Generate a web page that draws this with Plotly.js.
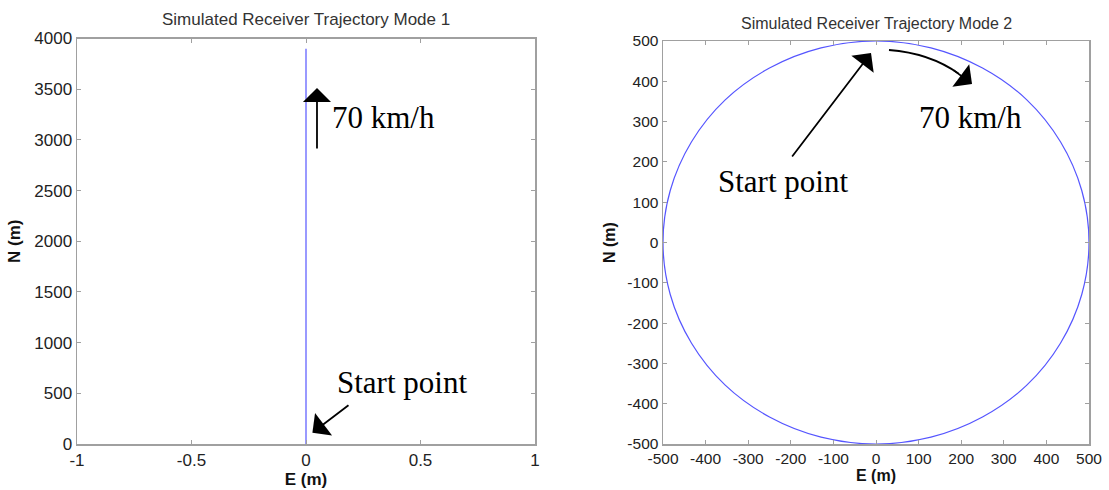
<!DOCTYPE html>
<html>
<head>
<meta charset="utf-8">
<script src="https://cdn.plot.ly/plotly-3.0.1.min.js"></script>
<style>html,body{margin:0;padding:0;background:#fff;}#chart{width:1109px;height:490px;}</style>
</head>
<body>
<div id="chart"></div>
<script>
// ---- Data: Mode 1 (straight north trajectory) ----
var mode1E = [0, 0];
var mode1N = [0, 3900];

// ---- Data: Mode 2 (circular trajectory, clockwise from start) ----
var mode2E = [0, 129, 250, 354, 433, 483, 500, 483, 433, 354, 250, 129, 0,
              -129, -250, -354, -433, -483, -500, -483, -433, -354, -250, -129, 0];
var mode2N = [500, 483, 433, 354, 250, 129, 0, -129, -250, -354, -433, -483, -500,
              -483, -433, -354, -250, -129, 0, 129, 250, 354, 433, 483, 500];

// ---- Tick labels ----
var mode1XTicks = [-1, -0.5, 0, 0.5, 1];
var mode1XTickText = ['-1', '-0.5', '0', '0.5', '1'];
var mode1YTicks = [0, 500, 1000, 1500, 2000, 2500, 3000, 3500, 4000];
var mode1YTickText = ['0', '500', '1000', '1500', '2000', '2500', '3000', '3500', '4000'];
var mode2Ticks = [-500, -400, -300, -200, -100, 0, 100, 200, 300, 400, 500];
var mode2TickText = ['-500', '-400', '-300', '-200', '-100', '0', '100', '200', '300', '400', '500'];

var titles = ['Simulated Receiver Trajectory Mode 1', 'Simulated Receiver Trajectory Mode 2'];
var speedLabel = '70 km/h';
var startLabel = 'Start point';

var sans = 'Liberation Sans, Arial, sans-serif';
var serif = 'Liberation Serif, Times New Roman, serif';
var frame = '#a0a0a0';
var lineBlue = 'rgb(85,85,255)';

var traces = [
  {x: mode1E, y: mode1N, type: 'scatter', mode: 'lines', xaxis: 'x', yaxis: 'y',
   line: {color: lineBlue, width: 1.2}, hoverinfo: 'skip', showlegend: false},
  {x: mode2E, y: mode2N, type: 'scatter', mode: 'lines', xaxis: 'x2', yaxis: 'y2',
   line: {color: lineBlue, width: 1.2, shape: 'spline', smoothing: 1}, hoverinfo: 'skip', showlegend: false}
];

function axisBase(fs) {
  return {
    ticks: 'inside', ticklen: 4, tickwidth: 1, tickcolor: frame,
    showline: true, linecolor: frame, linewidth: 1.5, mirror: 'ticks',
    showgrid: false, zeroline: false, fixedrange: true,
    tickfont: {family: sans, size: fs, color: '#222'},
    tickmode: 'array'
  };
}

var xa1 = Object.assign(axisBase(17), {
  domain: [77/1109, 535/1109], range: [-1, 1], anchor: 'y',
  tickvals: mode1XTicks, ticktext: mode1XTickText,
  title: {text: '<b>E (m)</b>', font: {family: sans, size: 17, color: '#111'}, standoff: 3}
});
var ya1 = Object.assign(axisBase(17), {
  domain: [46/490, 451.5/490], range: [0, 4000], anchor: 'x',
  tickvals: mode1YTicks, ticktext: mode1YTickText,
  title: {text: '<b>N (m)</b>', font: {family: sans, size: 17, color: '#111'}, standoff: 9}
});
var xa2 = Object.assign(axisBase(15.5), {
  domain: [663/1109, 1089/1109], range: [-500, 500], anchor: 'y2',
  tickvals: mode2Ticks, ticktext: mode2TickText,
  title: {text: '<b>E (m)</b>', font: {family: sans, size: 16, color: '#111'}, standoff: 3}
});
var ya2 = Object.assign(axisBase(15.5), {
  domain: [46/490, 449/490], range: [-500, 500], anchor: 'x2',
  tickvals: mode2Ticks, ticktext: mode2TickText,
  title: {text: '<b>N (m)</b>', font: {family: sans, size: 16, color: '#111'}, standoff: 8}
});

var arrowStyle = {showarrow: true, arrowhead: 1, arrowsize: 2.6, arrowwidth: 1.8, arrowcolor: '#000', standoff: 0, startstandoff: 0};

var annotations = [
  {text: titles[0], xref: 'paper', yref: 'paper', x: 306/1109, y: (490-19)/490, xanchor: 'center', yanchor: 'middle',
   showarrow: false, font: {family: sans, size: 17, color: '#333'}},
  {text: titles[1], xref: 'paper', yref: 'paper', x: 876/1109, y: (490-23)/490, xanchor: 'center', yanchor: 'middle',
   showarrow: false, font: {family: sans, size: 16, color: '#333'}},
  // Mode 1 annotations
  Object.assign({text: '', xref: 'x', yref: 'y', x: 0.048, y: 3511, axref: 'x', ayref: 'y', ax: 0.048, ay: 2900}, arrowStyle),
  {text: speedLabel, xref: 'x', yref: 'y', x: 0.105, y: 3225, xanchor: 'left', yanchor: 'middle', showarrow: false,
   font: {family: serif, size: 31, color: '#000'}},
  Object.assign({text: '', xref: 'x', yref: 'y', x: 0.028, y: 111, axref: 'x', ayref: 'y', ax: 0.192, ay: 394}, arrowStyle),
  {text: startLabel, xref: 'x', yref: 'y', x: 0.127, y: 611, xanchor: 'left', yanchor: 'middle', showarrow: false,
   font: {family: serif, size: 31, color: '#000'}},
  // Mode 2 annotations
  Object.assign({text: '', xref: 'x2', yref: 'y2', x: -11.7, y: 470, axref: 'x2', ayref: 'y2', ax: -199.5, ay: 209.7}, arrowStyle),
  {text: startLabel, xref: 'x2', yref: 'y2', x: -375.6, y: 152.6, xanchor: 'left', yanchor: 'middle', showarrow: false,
   font: {family: serif, size: 31, color: '#000'}},
  Object.assign({text: '', xref: 'x2', yref: 'y2', x: 225.4, y: 393.3, ax: -20, ay: -15}, arrowStyle),
  {text: speedLabel, xref: 'x2', yref: 'y2', x: 96.2, y: 311, xanchor: 'left', yanchor: 'middle', showarrow: false,
   font: {family: serif, size: 31, color: '#000'}}
];

var shapes = [
  {type: 'path', xref: 'x2', yref: 'y2', path: 'M 30.5,477.7 Q 125.8,470.2 194,419',
   line: {color: '#000', width: 1.8}, fillcolor: 'rgba(0,0,0,0)'}
];

var layout = {
  width: 1109, height: 490,
  margin: {l: 0, r: 0, t: 0, b: 0},
  paper_bgcolor: '#fff', plot_bgcolor: '#fff',
  showlegend: false,
  xaxis: xa1, yaxis: ya1, xaxis2: xa2, yaxis2: ya2,
  annotations: annotations,
  shapes: shapes
};

Plotly.newPlot('chart', traces, layout, {displayModeBar: false, staticPlot: true});
</script>
</body>
</html>
